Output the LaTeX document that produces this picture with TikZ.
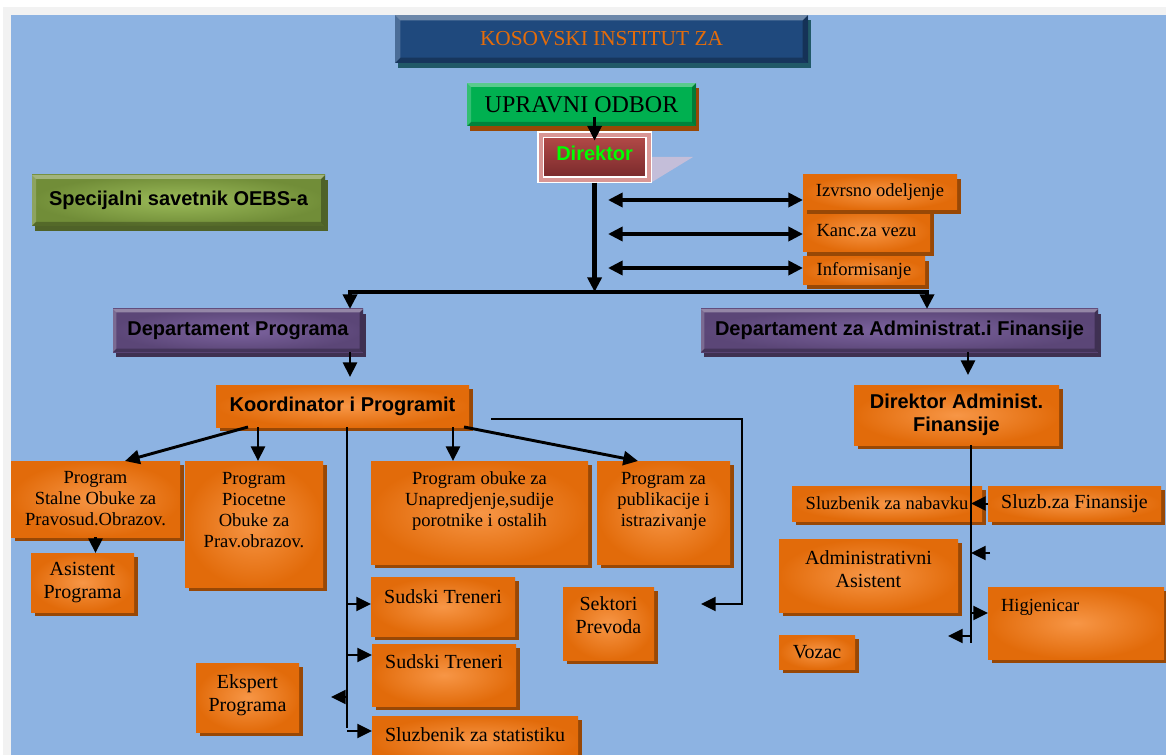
\documentclass[tikz,border=0pt]{standalone}
\usepackage{fontspec}
\setmainfont{Liberation Serif}
\newfontfamily\arial{Liberation Sans}
\usetikzlibrary{arrows.meta,shadows,calc}

\definecolor{bgblue}{HTML}{8DB3E2}
\definecolor{stripgray}{HTML}{F2F2F2}
\definecolor{titleblue}{HTML}{1F497D}
\definecolor{titleshadow}{HTML}{215968}
\definecolor{titletext}{HTML}{E46C0A}
\definecolor{boardgreen}{HTML}{00B050}
\definecolor{brownshadow}{HTML}{984806}
\definecolor{dirtop}{HTML}{B54B48}
\definecolor{dirbottom}{HTML}{76282A}
\definecolor{dirpink}{HTML}{D99694}
\definecolor{dirgreen}{HTML}{00FF00}
\definecolor{dirwing}{HTML}{C4BED9}
\definecolor{olivedark}{HTML}{718D38}
\definecolor{olivelight}{HTML}{9BBB59}
\definecolor{oliveshadow}{HTML}{4F6228}
\definecolor{purpledark}{HTML}{5B4677}
\definecolor{purplelight}{HTML}{7D64A0}
\definecolor{purpleshadow}{HTML}{3F3151}
\definecolor{orangedark}{HTML}{E26B0A}
\definecolor{orangelight}{HTML}{F79646}

\newlength\unitpx \setlength\unitpx{0.75pt}
\newcommand\cbox[3]{\parbox[c][#2\unitpx][c]{#1\unitpx}{\centering #3\par}}
\newcommand\tbox[4][11]{\parbox[c][#3\unitpx][t]{#2\unitpx}{\vspace*{#1\unitpx}\centering #4\par}}
\newcommand\fa{\fontsize{13.9}{15.75}\selectfont}
\newcommand\fb{\fontsize{15}{16.9}\selectfont}
\newcommand\fbold{\arial\bfseries\fontsize{15}{17.25}\selectfont}

\tikzset{
  >={Triangle[length=11pt,width=10.5pt]},
  box/.style={anchor=north west, inner sep=0pt, outer sep=0pt},
  bevel/.style={path picture={
      \coordinate (q1) at (path picture bounding box.north west);
      \coordinate (q2) at (path picture bounding box.north east);
      \coordinate (q3) at (path picture bounding box.south east);
      \coordinate (q4) at (path picture bounding box.south west);
      \fill[white, opacity=.35] (q1) -- (q2) -- ([shift={(-#1,-#1)}]q2) -- ([shift={(#1,-#1)}]q1) -- cycle;
      \fill[white, opacity=.2] (q1) -- ([shift={(#1,-#1)}]q1) -- ([shift={(#1,#1)}]q4) -- (q4) -- cycle;
      \fill[black, opacity=.25] (q4) -- ([shift={(#1,#1)}]q4) -- ([shift={(-#1,#1)}]q3) -- (q3) -- cycle;
      \fill[black, opacity=.3] (q3) -- ([shift={(-#1,#1)}]q3) -- ([shift={(-#1,-#1)}]q2) -- (q2) -- cycle;
  }},
  obox/.style={box, inner color=orangelight, outer color=orangedark,
    drop shadow={shadow xshift=3pt, shadow yshift=-3pt, fill=brownshadow, opacity=1}},
  dept/.style={box, inner color=purplelight, outer color=purpledark, bevel=2.5pt, font=\fbold,
    drop shadow={shadow xshift=2.5pt, shadow yshift=-3.5pt, fill=purpleshadow, opacity=1}},
  arr/.style={line width=2.2pt, ->},
  tarr/.style={line width=1.5pt, ->},
  dbl/.style={line width=3pt, <->},
  tline/.style={line width=1.5pt},
  bus/.style={line width=3.6pt},
}

\begin{document}
\begin{tikzpicture}[x=0.75pt, y=-0.75pt]
  \clip (0,0) rectangle (1166,755);
  \fill[white] (0,0) rectangle (1166,755);
  \fill[stripgray] (3,7) rectangle (1166,755);
  \fill[bgblue] (11,15) rectangle (1166,755);

  % top of the chart
  \node[box, fill=titleblue, bevel=4pt, text=titletext, font=\fontsize{16}{18}\selectfont,
    drop shadow={shadow xshift=2pt, shadow yshift=-4pt, fill=titleshadow, opacity=1}]
    (title) at (395,15) {\cbox{413}{48}{KOSOVSKI INSTITUT ZA}};
  \node[box, fill=boardgreen, bevel=3pt, font=\fontsize{18}{20}\selectfont,
    drop shadow={shadow xshift=2.5pt, shadow yshift=-3.5pt, fill=brownshadow, opacity=1}]
    (upravni) at (467,83) {\cbox{229}{43}{UPRAVNI ODBOR}};
  \fill[dirwing] (652,157) -- (693,157) -- (652,182) -- cycle;
  \node[box, draw=white, line width=1.2pt, double=dirpink, double distance=3pt,
    top color=dirtop, bottom color=dirbottom, text=dirgreen, font=\fbold]
    (direktor) at (540.6,134.6) {\tbox[11]{108}{45}{Direktor}};
  \node[box, inner color=olivelight, outer color=olivedark, bevel=3pt, font=\fbold,
    drop shadow={shadow xshift=2.5pt, shadow yshift=-3.5pt, fill=oliveshadow, opacity=1}]
    (savetnik) at (32,175) {\cbox{293}{51}{Specijalni savetnik OEBS-a}};

  \node[obox, font=\fa] (inform) at (803,257) {\cbox{122}{28}{Informisanje}};
  \node[obox, font=\fa] (kanc) at (803,210) {\cbox{127}{42}{Kanc.za vezu}};
  \node[obox, font=\fa] (izvrsno) at (803,175) {\cbox{154}{35}{Izvrsno odeljenje}};

  \node[dept] (deptprog) at (113,309) {\cbox{250}{43}{Departament Programa}};
  \node[dept] (deptfin) at (701,309) {\cbox{397}{43}{Departament za Administrat.i Finansije}};

  % program side
  \node[obox, font=\fbold] (koord) at (216,385) {\cbox{253}{42}{Koordinator i Programit}};
  \node[obox, font=\fa] (stalne) at (11,461) {\cbox{169}{76}{Program\\Stalne Obuke za\\Pravosud.Obrazov.}};
  \node[obox, font=\fb] (asist) at (31,553) {\cbox{103}{59}{Asistent\\Programa}};
  \node[obox, font=\fa] (piocetne) at (185,461) {\tbox{138}{126}{Program\\Piocetne\\Obuke za\\Prav.obrazov.}};
  \node[obox, font=\fa] (obuke) at (371,461) {\tbox{217}{103}{Program obuke za\\Unapredjenje,sudije\\porotnike i ostalih}};
  \node[obox, font=\fa] (publik) at (597,461) {\tbox{133}{103}{Program za\\publikacije i\\istrazivanje}};
  \node[obox, font=\fb] (sudskiA) at (371,577) {\tbox[13]{144}{59}{Sudski Treneri}};
  \node[obox, font=\fb] (sudskiB) at (372,644) {\tbox{144}{62}{Sudski Treneri}};
  \node[obox, font=\fb] (statist) at (372,716) {\tbox[12]{206}{50}{Sluzbenik za statistiku}};
  \node[obox, font=\fb] (ekspert) at (196,663) {\tbox[12]{103}{69}{Ekspert\\Programa}};
  \node[obox, font=\fb] (sektori) at (563,587) {\tbox[10]{91}{73}{Sektori\\Prevoda}};

  % finance side
  \node[obox, font=\fbold] (dirfin) at (854,385) {\cbox{205}{60}{Direktor Administ.\\Finansije}};
  \node[obox, font=\fa] (nabavku) at (792,486) {\cbox{190}{35}{Sluzbenik za nabavku}};
  \node[obox, font=\fb] (finans) at (988,486) {\cbox{173}{35}{Sluzb.za Finansije}};
  \node[obox, font=\fb] (adminas) at (779,539) {\tbox[12]{179}{73}{Administrativni\\Asistent}};
  \node[obox, font=\fa] (higj) at (988,587) {\tbox[12]{176}{72}{\raggedright\hspace*{13\unitpx}Higjenicar}};
  \node[obox, font=\fb] (vozac) at (779,635) {\cbox{76}{34}{Vozac}};

  % connectors
  \draw[arr] ($(direktor.north)+(0,-18)$) -- ($(direktor.north)+(0,6)$);
  \coordinate (busL) at (350,292);
  \coordinate (busR) at (927,292);
  \draw[bus, ->] ($(direktor.south)+(0,3)$) -- (direktor.south |- busL);
  \draw[bus, <->] (busL |- deptprog.north) -- (busL) -- (busR) -- (busR |- deptfin.north);
  \foreach \n/\y in {izvrsno/200, kanc/234, inform/268} {
    \coordinate (l\n) at (608,\y);
    \draw[dbl] (l\n) -- (l\n -| \n.west);
  }

  \coordinate (dpA) at (350,377);
  \coordinate (dfA) at (968,375);
  \draw[arr] (dpA |- deptprog.south) -- (dpA);
  \draw[arr] (dfA |- deptfin.south) -- (dfA);

  \draw[arr] ($(koord.south west)+(32,0)$) -- ($(stalne.north west)+(114,0)$);
  \draw[arr] ($(koord.south west)+(42,0)$) -- ($(piocetne.north west)+(73,0)$);
  \draw[arr] ($(koord.south west)+(237,0)$) -- ($(obuke.north west)+(82,0)$);
  \draw[arr] ($(koord.south east)+(-5,0)$) -- ($(publik.north west)+(41,0)$);
  \draw[arr] (stalne.south) -- (stalne.south |- asist.north);

  \coordinate (kBot) at (347,728);
  \draw[tline] (kBot |- koord.south) -- (kBot);
  \foreach \n/\y in {sudskiA/604, sudskiB/655, statist/731} {
    \coordinate (s\n) at (347,\y);
    \draw[tarr] (s\n) -- (s\n -| \n.west);
  }
  \coordinate (ekA) at (347,697);
  \coordinate (ekB) at (331,697);
  \draw[tarr] (ekA) -- (ekB);
  \coordinate (skA) at (491,419);
  \coordinate (skB) at (742,419);
  \coordinate (skC) at (701,604);
  \draw[tarr] (skA) -- (skB) |- (skC);

  \coordinate (finBot) at (971,643);
  \draw[tline] (finBot |- dirfin.south) -- (finBot);
  \draw[tarr] (finans.west) -- (finans.west -| finBot);
  \coordinate (aaA) at (990,553);
  \draw[tarr] (aaA) -- (aaA -| finBot);
  \coordinate (hgA) at (971,613);
  \draw[tarr] (hgA) -- (hgA -| higj.west);
  \coordinate (vzA) at (971,636);
  \coordinate (vzB) at (948,636);
  \draw[tarr] (vzA) -- (vzB);
\end{tikzpicture}
\end{document}
